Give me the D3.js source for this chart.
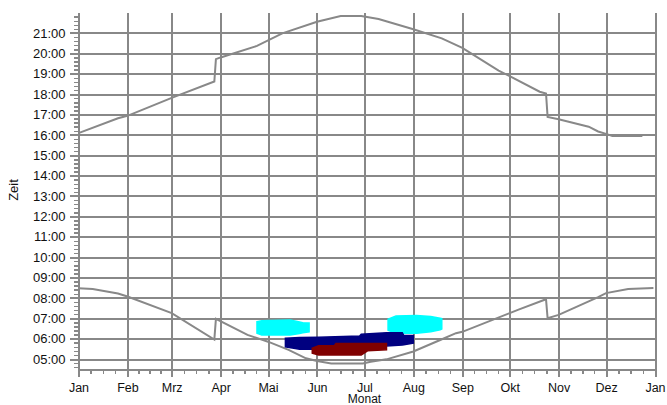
<!DOCTYPE html>
<html><head><meta charset="utf-8">
<script src="https://cdn.jsdelivr.net/npm/d3@7"></script>
<style>
html,body{margin:0;padding:0;background:#fff;}
svg{display:block;}
text{font-family:"Liberation Sans",Arial,sans-serif;fill:#111;}
</style></head>
<body><svg id="chart" width="667" height="405"></svg>
<script>
// ---- data ----
const monthLabels = ["Jan","Feb","Mrz","Apr","Mai","Jun","Jul","Aug","Sep","Okt","Nov","Dez","Jan"];
const hourLabels = ["05:00","06:00","07:00","08:00","09:00","10:00","11:00","12:00","13:00","14:00","15:00","16:00","17:00","18:00","19:00","20:00","21:00"];
const yLabel = "Zeit";
const xLabel = "Monat";

// sunrise [date, time]
const sunrise = [
  ["2015-01-01","08:28"],["2015-01-10","08:26"],["2015-01-26","08:13"],["2015-02-01","08:04"],
  ["2015-03-01","07:15"],["2015-03-28","05:57"],["2015-03-29","06:58"],["2015-04-18","06:11"],
  ["2015-05-01","05:51"],["2015-05-14","05:27"],["2015-05-25","05:02"],["2015-06-01","04:54"],
  ["2015-06-10","04:47"],["2015-06-30","04:47"],["2015-07-05","04:52"],["2015-07-15","04:59"],
  ["2015-08-01","05:22"],["2015-08-18","05:56"],["2015-08-28","06:16"],["2015-09-01","06:20"],
  ["2015-10-01","07:15"],["2015-10-07","07:26"],["2015-10-24","07:56"],["2015-10-25","07:00"],
  ["2015-11-01","07:10"],["2015-11-26","08:02"],["2015-12-01","08:14"],["2015-12-15","08:26"],
  ["2015-12-31","08:29"]
];
// sunset [date, time]
const sunset = [
  ["2015-01-01","16:05"],["2015-01-26","16:49"],["2015-02-01","16:56"],["2015-03-01","17:49"],
  ["2015-03-28","18:37"],["2015-03-29","19:43"],["2015-04-01","19:48"],["2015-04-24","20:22"],
  ["2015-05-10","20:59"],["2015-06-01","21:33"],["2015-06-16","21:50"],["2015-06-29","21:50"],
  ["2015-07-10","21:41"],["2015-08-01","21:11"],["2015-08-19","20:44"],["2015-09-01","20:16"],
  ["2015-09-24","19:09"],["2015-10-01","18:53"],["2015-10-20","18:07"],["2015-10-24","18:02"],
  ["2015-10-25","16:53"],["2015-11-01","16:46"],["2015-11-20","16:24"],["2015-11-26","16:10"],
  ["2015-12-01","16:03"],["2015-12-05","15:57"],["2015-12-24","15:57"]
];
// event periods [date, from, to]
const cyanSpring = [
  ["2015-04-24","06:16","06:50"],["2015-04-27","06:11","06:53"],["2015-05-15","06:11","06:55"],
  ["2015-05-21","06:15","06:49"],["2015-05-23","06:17","06:47"],["2015-05-27","06:20","06:46"]
];
const cyanSummer = [
  ["2015-07-16","06:25","06:57"],["2015-07-21","06:16","07:07"],["2015-08-03","06:16","07:08"],
  ["2015-08-12","06:20","07:05"],["2015-08-18","06:26","07:00"],["2015-08-19","06:28","06:59"]
];
const navyBand = [
  ["2015-05-12","05:36","06:01"],["2015-05-21","05:29","06:03"],["2015-06-02","05:29","06:04"],
  ["2015-06-28","05:33","06:08"],["2015-06-29","05:34","06:13"],["2015-07-15","05:38","06:17"],
  ["2015-07-25","05:41","06:17"],["2015-07-26","05:42","06:09"],["2015-08-01","05:47","06:09"]
];
const redBand = [
  ["2015-05-29","05:17","05:32"],["2015-06-02","05:12","05:39"],["2015-06-12","05:12","05:39"],
  ["2015-06-13","05:12","05:46"],["2015-06-29","05:12","05:46"],["2015-07-03","05:24","05:46"],
  ["2015-07-15","05:27","05:46"]
];

// ---- helpers ----
const parseDate = d3.timeParse("%Y-%m-%d");
const toHour = s => { const [h,m] = s.split(":").map(Number); return h + m/60; };

const svg = d3.select("#chart");
const x = d3.scaleTime().domain([new Date(2015,0,1), new Date(2016,0,1)]).range([78.5, 655]);
const y = d3.scaleLinear().domain([4.5, 22]).range([369.2, 12.6]);
const grey = "#888888";

// month ticks
const monthTicks = d3.timeMonth.range(new Date(2015,0,1), new Date(2016,0,2));
// minor x ticks: quarter months
const minorX = [];
monthTicks.slice(0,12).forEach(m => {
  const next = d3.timeMonth.offset(m,1);
  [0.25,0.5,0.75].forEach(f => minorX.push(new Date(+m + f*(next - m))));
});
const hourTicks = d3.range(5, 22);
const minorY = d3.range(4.6, 21.9, 0.2).filter(v => Math.abs(v - Math.round(v)) > 0.01);

// gridlines
const g = svg.append("g").attr("shape-rendering","crispEdges");
g.append("g")
  .call(d3.axisRight(y).tickValues(hourTicks).tickSize(657-78.5).tickFormat(""))
  .attr("transform","translate(78.5,0)")
  .call(s => s.select(".domain").remove())
  .call(s => s.selectAll("line").attr("stroke",grey).attr("stroke-width",2));
g.append("g").attr("transform","translate(0,369)")
  .call(d3.axisTop(x).tickValues(monthTicks).tickSize(369-12.6).tickFormat(""))
  .call(s => s.select(".domain").remove())
  .call(s => s.selectAll("line").attr("stroke",grey).attr("stroke-width",2));

// y axis (major + minor)
const ya = svg.append("g").attr("transform","translate(78.5,0)").attr("shape-rendering","crispEdges");
ya.call(d3.axisLeft(y).tickValues(minorY).tickSize(5).tickFormat("").tickSizeOuter(0))
  .call(s => s.select(".domain").attr("stroke",grey).attr("stroke-width",2))
  .call(s => s.selectAll("line").attr("stroke",grey).attr("stroke-width",1.5));
const yMaj = svg.append("g").attr("transform","translate(78.5,0)");
yMaj.call(d3.axisLeft(y).tickValues(hourTicks).tickSize(9).tickPadding(4).tickFormat((d,i)=>hourLabels[i]))
  .call(s => s.select(".domain").remove())
  .call(s => s.selectAll("line").attr("stroke",grey).attr("stroke-width",2).attr("shape-rendering","crispEdges"))
  .call(s => s.selectAll("text").attr("font-size","13px").attr("fill","#111").attr("font-family","Liberation Sans, Arial, sans-serif"));

// x axis (major + minor)
const xa = svg.append("g").attr("transform","translate(0,369)").attr("shape-rendering","crispEdges");
xa.call(d3.axisBottom(x).tickValues(minorX).tickSize(5).tickFormat("").tickSizeOuter(0))
  .call(s => s.select(".domain").attr("stroke",grey).attr("stroke-width",2))
  .call(s => s.selectAll("line").attr("stroke",grey).attr("stroke-width",1.5));
const xMaj = svg.append("g").attr("transform","translate(0,369)");
xMaj.call(d3.axisBottom(x).tickValues(monthTicks).tickSize(8).tickPadding(6).tickFormat((d,i)=>monthLabels[i]))
  .call(s => s.select(".domain").remove())
  .call(s => s.selectAll("line").attr("stroke",grey).attr("stroke-width",2).attr("shape-rendering","crispEdges"))
  .call(s => s.selectAll("text").attr("font-size","12.5px").attr("fill","#111").attr("font-family","Liberation Sans, Arial, sans-serif"));

// curves
const line = d3.line().x(d => x(parseDate(d[0]))).y(d => y(toHour(d[1])));
[sunrise, sunset].forEach(data => {
  svg.append("path").datum(data).attr("d", line)
    .attr("fill","none").attr("stroke",grey).attr("stroke-width",2);
});

// event areas
const area = d3.area().x(d => x(parseDate(d[0]))).y0(d => y(toHour(d[1]))).y1(d => y(toHour(d[2])));
[[cyanSpring,"#00FFFF"],[cyanSummer,"#00FFFF"],[navyBand,"#000080"],[redBand,"#800000"]].forEach(([data,c]) => {
  svg.append("path").datum(data).attr("d", area).attr("fill", c).attr("stroke", c).attr("stroke-width",1.5);
});

// axis titles
svg.append("text").attr("transform","translate(18,190) rotate(-90)").attr("text-anchor","middle")
  .attr("font-size","13px").text(yLabel);
svg.append("text").attr("x",364.5).attr("y",402.5).attr("text-anchor","middle")
  .attr("font-size","12px").text(xLabel);
</script></body></html>
